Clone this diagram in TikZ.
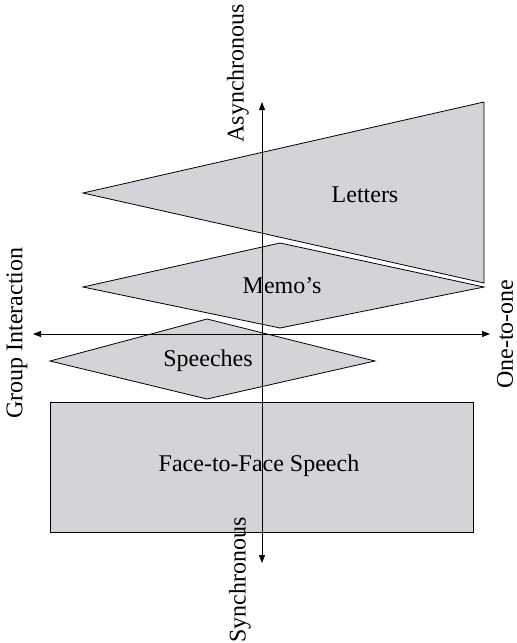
\documentclass[tikz,border=0pt]{standalone}
\usepackage{fontspec}
\setmainfont{Liberation Serif}
\usetikzlibrary{arrows.meta,positioning}

\definecolor{shapegray}{RGB}{211,212,215}
\tikzset{
  region/.style = {draw, fill=shapegray, line width=0.8pt, line join=miter},
  axis/.style   = {line width=0.8pt, {Triangle[length=8pt,width=6pt]}-{Triangle[length=8pt,width=6pt]}},
  lbl/.style    = {font=\fontsize{24}{28}\selectfont, inner sep=0pt},
  axislbl/.style= {lbl, rotate=90}
}

\begin{document}
\begin{tikzpicture}[x=1pt,y=-1pt]
        \useasboundingbox (0,0) rectangle (517,643);
        % regions
        \draw[region] (83,193) -- (484,102) -- (484,283) -- cycle;
        \draw[region] (83,287) -- (280,243) -- (484,287) -- (280,328) -- cycle;
        \draw[region] (50,361) -- (207,319) -- (375,361) -- (207,399) -- cycle;
        \draw[region] (50,402) rectangle (473,532);
        \node[lbl] (letters) at (365,195) {Letters};
        \node[lbl] (memos) at (282,286) {Memo’s};
        \node[lbl] (speeches) at (208,361) {Speeches};
        \node[lbl] (face) at (259,466) {Face-to-Face Speech};
        % axes
        \coordinate (top) at (262,102);
        \coordinate (bottom) at (262,563);
        \coordinate (left) at (33,334);
        \coordinate (right) at (490,334);
        \draw[axis] (bottom) -- (top);
        \draw[axis] (left) -- (right);
        \node[axislbl] (async) at (238,73) {Asynchronous};
        \node[axislbl] (sync) at (240,580) {Synchronous};
        \node[axislbl] (group) at (17,333) {Group Interaction};
        \node[axislbl] (one) at (505,334) {One-to-one};
\end{tikzpicture}
\end{document}
